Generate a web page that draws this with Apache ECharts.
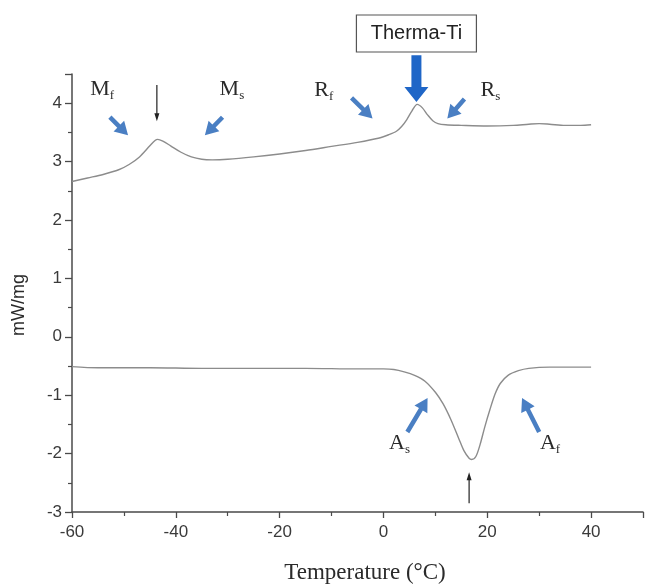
<!DOCTYPE html>
<html><head><meta charset="utf-8">
<script src="https://cdn.jsdelivr.net/npm/echarts@6/dist/echarts.min.js"></script>
<style>html,body{margin:0;padding:0;background:#fff}#c{width:646px;height:585px}</style>
</head><body><div id="c"></div><script>
// ---- data ----
const upperTemps  = [-60,-57,-54,-51,-49,-47,-45,-44,-43.5,-42.5,-41,-39,-37,-35,-33,-30,-25,-20,-15,-10,-5,-1,1,2.5,3.5,4.5,5.5,6.5,7.5,8.5,9.5,10.5,12,15,20,25,28,30,32,35,38,40];
const upperValues = [2.66,2.72,2.78,2.86,2.95,3.08,3.27,3.36,3.38,3.35,3.27,3.16,3.08,3.04,3.03,3.04,3.08,3.13,3.19,3.26,3.33,3.40,3.46,3.52,3.60,3.72,3.87,3.98,3.92,3.80,3.70,3.65,3.63,3.62,3.61,3.62,3.64,3.65,3.64,3.62,3.62,3.63];
const lowerTemps  = [-60,-55,-45,-35,-25,-15,-5,0,2,4,6,8,10,11.5,13,14.5,15.5,16.5,17,17.8,18.6,19.5,20.5,21.5,22.5,24,26,28,32,40];
const lowerValues = [-0.51,-0.53,-0.53,-0.54,-0.54,-0.54,-0.55,-0.55,-0.56,-0.60,-0.66,-0.76,-0.95,-1.15,-1.42,-1.74,-1.95,-2.08,-2.10,-2.05,-1.85,-1.55,-1.25,-0.98,-0.80,-0.66,-0.58,-0.54,-0.52,-0.52];
const xTickLabels = [-60,-40,-20,0,20,40];
const yTickLabels = [-3,-2,-1,0,1,2,3,4];

// annotation labels (main letter, subscript, centre in data coords)
const labelMain = ['M','M','R','R','A','A'];
const labelSub  = ['f','s','f','s','s','f'];
const labelX    = [-54.2,-29.2,-11.5,20.6,3.1,32.1];
const labelY    = [4.24,4.24,4.22,4.22,-1.82,-1.82];
// blue pointer arrows: from -> to, data coords
const blueFromX = [-52.7,-31.0,-6.15,15.6,4.6,30.0];
const blueFromY = [3.76,3.76,4.09,4.07,-1.63,-1.63];
const blueToX   = [-49.2,-34.4,-2.1,12.3,8.5,26.7];
const blueToY   = [3.45,3.45,3.74,3.74,-1.05,-1.05];
// thin black arrows
const blackFromX = [-43.65,16.5];
const blackFromY = [4.31,-2.85];
const blackToX   = [-43.65,16.5];
const blackToY   = [3.69,-2.32];
// big arrow under the box
const bigFrom = [6.35,4.82];
const bigTo   = [6.35,4.02];
const boxText = 'Therma-Ti';

const chart = echarts.init(document.getElementById('c'));
const zip = (a,b)=>a.map((v,i)=>[v,b[i]]);
const axisColor = '#4a4a4a';
const labelFont = {color:'#3a3a3a', fontSize:17, fontFamily:'Liberation Sans, Arial, sans-serif'};

chart.setOption({
  animation:false,
  backgroundColor:'#fff',
  grid:{left:72,right:2,top:74,bottom:73},
  xAxis:{type:'value',min:-60,max:50,interval:20,
    axisLine:{onZero:false,lineStyle:{color:axisColor,width:1.5}},
    axisTick:{show:true,length:6,lineStyle:{color:axisColor,width:1.3}},
    minorTick:{show:true,splitNumber:2,length:4,lineStyle:{color:axisColor,width:1.2}},
    splitLine:{show:false},
    axisLabel:Object.assign({margin:12,formatter:v=>xTickLabels.includes(v)?String(v):''},labelFont)},
  yAxis:{type:'value',min:-3,max:4.5,interval:1,
    axisLine:{show:true,onZero:false,lineStyle:{color:axisColor,width:1.5}},
    axisTick:{show:true,length:7,lineStyle:{color:axisColor,width:1.3}},
    minorTick:{show:true,splitNumber:2,length:4,lineStyle:{color:axisColor,width:1.2}},
    splitLine:{show:false},
    axisLabel:Object.assign({margin:10,formatter:v=>yTickLabels.includes(v)?String(v):''},labelFont)},
  series:[
    {type:'line',data:zip(upperTemps,upperValues),showSymbol:false,smooth:0.3,
      lineStyle:{color:'#8c8c8c',width:1.4}},
    {type:'line',data:zip(lowerTemps,lowerValues),showSymbol:false,smooth:0.3,
      lineStyle:{color:'#8c8c8c',width:1.4}}
  ]
});

function px(x,y){return chart.convertToPixel({gridIndex:0},[x,y]);}
function arrowPts(p0,p1,sw,hw,hl){
  const dx=p1[0]-p0[0], dy=p1[1]-p0[1], L=Math.hypot(dx,dy);
  const ux=dx/L, uy=dy/L, nx=-uy, ny=ux;
  const b=[p1[0]-ux*hl,p1[1]-uy*hl];
  return [[p0[0]+nx*sw/2,p0[1]+ny*sw/2],[b[0]+nx*sw/2,b[1]+ny*sw/2],[b[0]+nx*hw/2,b[1]+ny*hw/2],
    [p1[0],p1[1]],[b[0]-nx*hw/2,b[1]-ny*hw/2],[b[0]-nx*sw/2,b[1]-ny*sw/2],[p0[0]-nx*sw/2,p0[1]-ny*sw/2]];
}
const cv=document.createElement('canvas').getContext('2d');
function tw(t,font){cv.font=font;return cv.measureText(t).width;}

const g=[];
const serif='"Liberation Serif","Times New Roman",serif';
for(let i=0;i<blueFromX.length;i++){
  g.push({type:'polygon',shape:{points:arrowPts(px(blueFromX[i],blueFromY[i]),px(blueToX[i],blueToY[i]),4.5,15,13)},
    style:{fill:'#4a7fc3'},z:10});
}
for(let i=0;i<blackFromX.length;i++){
  g.push({type:'polygon',shape:{points:arrowPts(px(blackFromX[i],blackFromY[i]),px(blackToX[i],blackToY[i]),1.2,5,8)},
    style:{fill:'#222'},z:10});
}
g.push({type:'polygon',shape:{points:arrowPts(px(bigFrom[0],bigFrom[1]),px(bigTo[0],bigTo[1]),10,24,15)},
  style:{fill:'#1f66c7'},z:10});
for(let i=0;i<labelMain.length;i++){
  const c=px(labelX[i],labelY[i]);
  const wm=tw(labelMain[i],'22px '+serif), ws=tw(labelSub[i],'13px '+serif);
  const left=c[0]-(wm+ws)/2;
  g.push({type:'text',x:left,y:c[1],style:{text:labelMain[i],fontSize:22,fontFamily:serif,fill:'#2a2a2a',align:'left',verticalAlign:'middle'},z:11});
  g.push({type:'text',x:left+wm,y:c[1]+6,style:{text:labelSub[i],fontSize:13,fontFamily:serif,fill:'#2a2a2a',align:'left',verticalAlign:'middle'},z:11});
}
// box with label
const bc=px(bigFrom[0],bigFrom[1]);
g.push({type:'rect',shape:{x:bc[0]-60,y:15,width:120,height:37},style:{fill:'#fff',stroke:'#555',lineWidth:1.2},z:10});
g.push({type:'text',x:bc[0],y:33.5,style:{text:boxText,fontSize:20,fontFamily:'Liberation Sans, Arial, sans-serif',fill:'#222',align:'center',verticalAlign:'middle'},z:11});
// axis titles
g.push({type:'text',x:365,y:573,style:{text:'Temperature (\u00B0C)',fontSize:23,fontFamily:serif,fill:'#2a2a2a',align:'center',verticalAlign:'middle'},z:11});
g.push({type:'text',x:19,y:305,rotation:Math.PI/2,style:{text:'mW/mg',fontSize:18,fontFamily:'Liberation Sans, Arial, sans-serif',fill:'#2a2a2a',align:'center',verticalAlign:'middle'},z:11});
chart.setOption({graphic:g});
</script></body></html>
